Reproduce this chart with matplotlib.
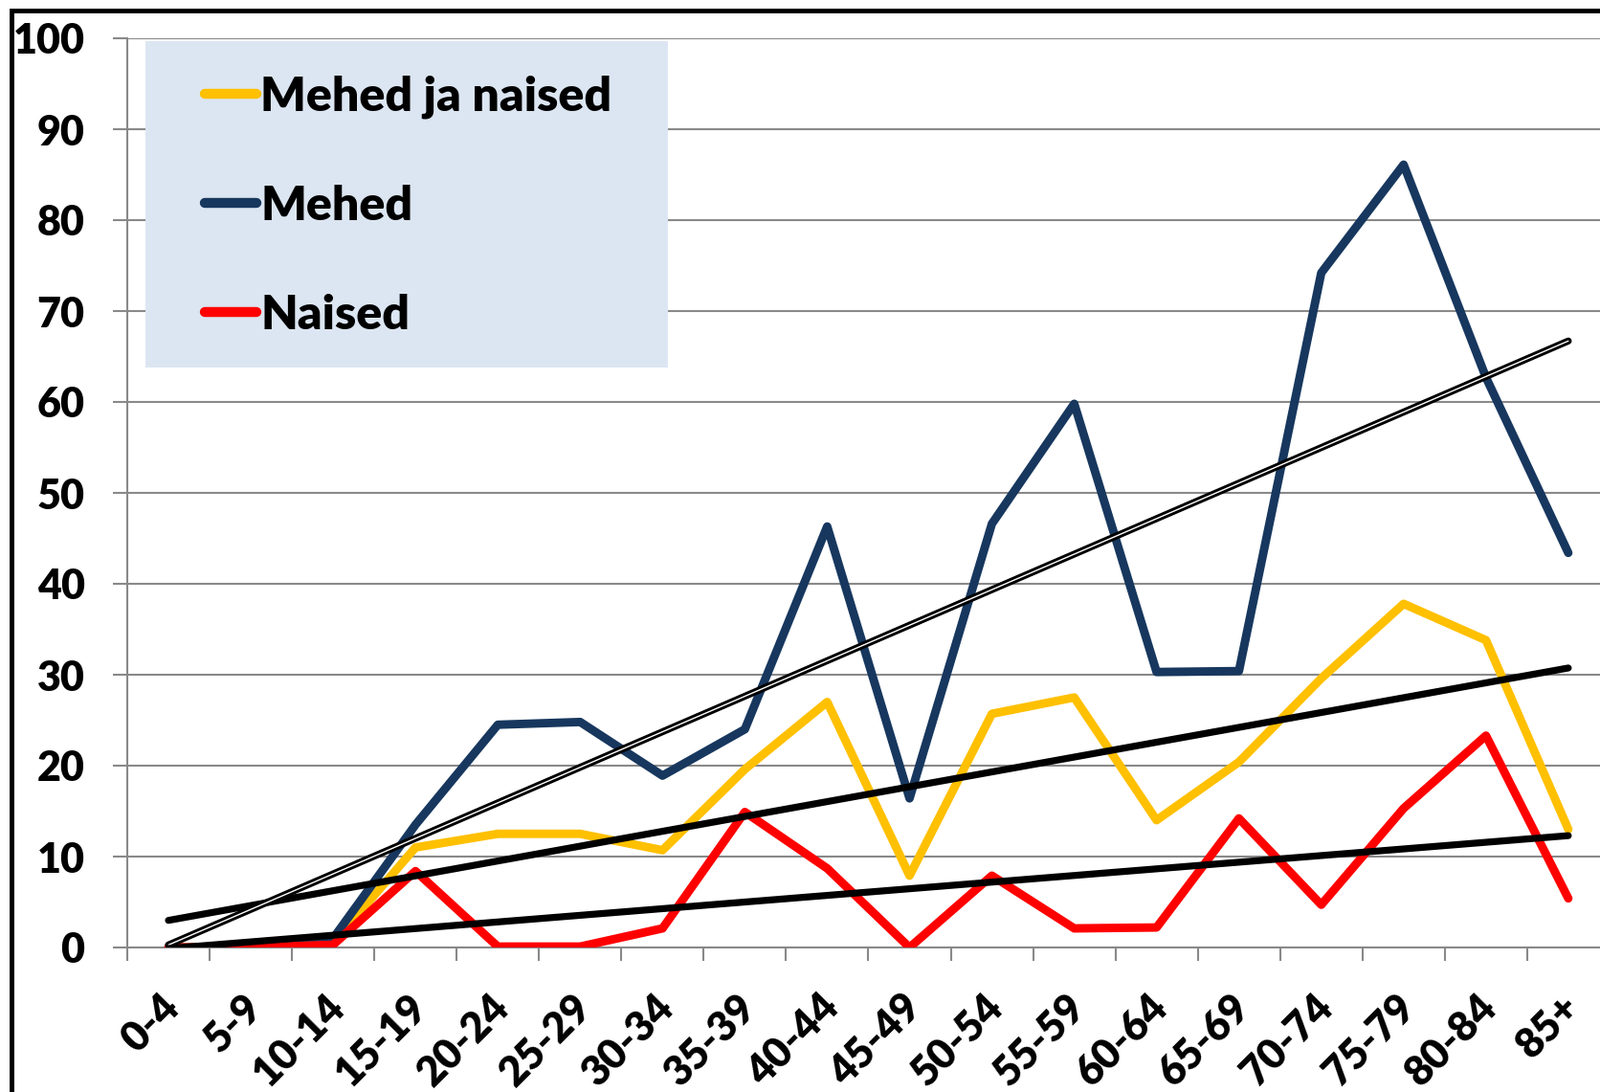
import numpy as np
import matplotlib
matplotlib.use('Agg')
from matplotlib import pyplot as plt
import matplotlib.patches as mpatches
import matplotlib.patheffects as pe
import matplotlib.transforms as mtrans

# age groups and rates
ages = ['0-4', '5-9', '10-14', '15-19', '20-24', '25-29', '30-34', '35-39', '40-44',
        '45-49', '50-54', '55-59', '60-64', '65-69', '70-74', '75-79', '80-84', '85+']
both = [0, 0, 0.5, 11.0, 12.5, 12.5, 10.7, 19.6, 27.0,
        7.9, 25.7, 27.5, 14.0, 20.4, 29.6, 37.8, 33.8, 13.0]
men = [0, 0, 1.0, 13.5, 24.5, 24.8, 18.9, 24.0, 46.3,
       16.4, 46.6, 59.8, 30.3, 30.4, 74.2, 86.1, 62.7, 43.4]
women = [0, 0, 0.3, 8.4, 0.1, 0.1, 2.1, 14.9, 8.7,
         0, 7.9, 2.1, 2.2, 14.2, 4.7, 15.3, 23.3, 5.4]

labels = ['Mehed ja naised', 'Mehed', 'Naised']
colors = ['#FFC000', '#17375E', '#FF0000']

plt.rcParams['font.family'] = ['Lato', 'DejaVu Sans']
plt.rcParams['font.weight'] = 'heavy'

W, H = 1672, 1141
fig = plt.figure(figsize=(W / 100, H / 100), dpi=100)
ax = fig.add_axes([133 / W, 151 / H, 18 * 86.05 / W, 950 / H])

x = np.arange(len(ages))
grey = '#898989'

for vals, c, lab in zip([both, men, women], colors, labels):
    ax.plot(x, vals, color=c, lw=6.4, label=lab, solid_capstyle='round',
            solid_joinstyle='round', zorder=3)

# linear trend lines
for vals, k in zip([both, men, women], range(3)):
    p = np.polyfit(x, vals, 1)
    t = np.polyval(p, x)
    if k == 1:
        ax.plot(x, t, color='white', lw=1.0, solid_capstyle='round', zorder=4,
                path_effects=[pe.Stroke(linewidth=5.2, foreground='black',
                                        capstyle='round'), pe.Normal()])
    else:
        ax.plot(x, t, color='black', lw=5.2, solid_capstyle='round', zorder=4)

ax.set_xlim(-0.5, 17.5)
ax.set_ylim(0, 100)
ax.set_yticks(range(0, 101, 10))
ax.yaxis.grid(True, color=grey, lw=1.5, zorder=0)
ax.set_axisbelow(True)
ax.tick_params(axis='y', length=11, width=1.5, color=grey, pad=21, labelsize=31)

ax.set_xticks(x)
ax.set_xticklabels(ages, rotation=45, ha='right', va='top', rotation_mode='anchor')
ax.set_xticks(np.arange(-0.5, 18, 1), minor=True)
ax.tick_params(axis='x', which='major', length=0, pad=30, labelsize=31)
ax.tick_params(axis='x', which='minor', length=10, width=1.5, color=grey)
shift = mtrans.ScaledTranslation(-9 / 100, 0, fig.dpi_scale_trans)
for lbl in ax.get_xticklabels():
    lbl.set_transform(lbl.get_transform() + shift)

for s in ['top', 'right']:
    ax.spines[s].set_visible(False)
for s in ['left', 'bottom']:
    ax.spines[s].set_color(grey)
    ax.spines[s].set_linewidth(1.5)

# legend background box
box = mpatches.Rectangle((152 / W, (H - 384) / H), 546 / W, 341 / H,
                         transform=fig.transFigure, facecolor='#DCE6F2',
                         edgecolor='none', zorder=2)
ax.add_patch(box)
box.set_clip_on(False)

leg = ax.legend(loc='upper left', bbox_to_anchor=(214 / W, (H - 78) / H),
                bbox_transform=fig.transFigure, frameon=False, fontsize=36,
                handlelength=1.08, handletextpad=0.08, labelspacing=1.38,
                borderpad=0, borderaxespad=0)
for ln in leg.get_lines():
    ln.set_linewidth(7.5)
leg.set_zorder(6)

# outer frame of the picture
frame = mpatches.Rectangle((12 / W, -0.1), 1.2, (H - 11) / H + 0.1,
                           transform=fig.transFigure, fill=False,
                           edgecolor='black', lw=3.5)
fig.add_artist(frame)

fig.savefig('out.png', dpi=100)
